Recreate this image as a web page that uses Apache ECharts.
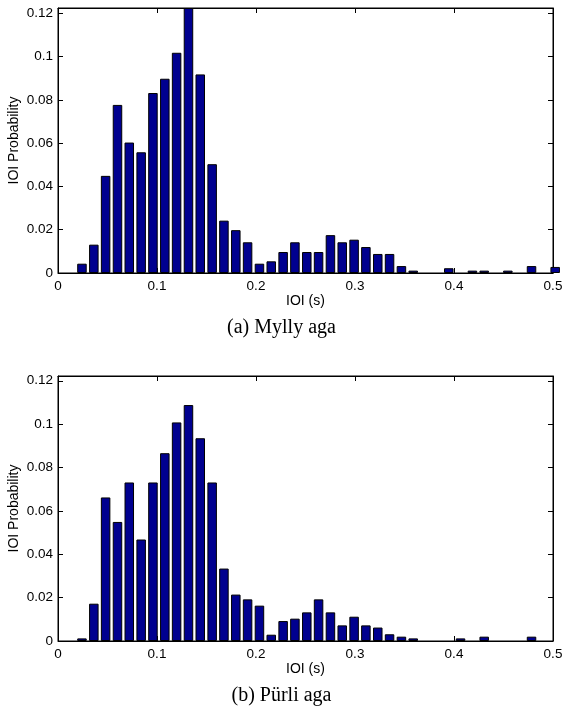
<!DOCTYPE html>
<html>
<head>
<meta charset="utf-8">
<style>
  html, body { margin: 0; padding: 0; background: #fff; }
  #chart { width: 563px; height: 711px; }
</style>
<script src="https://cdn.jsdelivr.net/npm/echarts@6/dist/echarts.min.js"></script>
</head>
<body>
<div id="chart"></div>
<script>
// Histogram bin centres (s), shared by both panels
const binCenters = [
  0.0242, 0.0362, 0.0481, 0.0601, 0.0720, 0.0840, 0.0959, 0.1079, 0.1198, 0.1318,
  0.1437, 0.1557, 0.1676, 0.1796, 0.1915, 0.2035, 0.2154, 0.2274, 0.2393, 0.2513,
  0.2632, 0.2752, 0.2871, 0.2991, 0.3110, 0.3230, 0.3349, 0.3469, 0.3588, 0.3708,
  0.3827, 0.3947, 0.4066, 0.4186, 0.4305, 0.4425, 0.4544, 0.4664, 0.4783, 0.4903,
  0.5022
];

// IOI probabilities, panel (a) Mylly aga
const myllyValues = [
  0.0043, 0.0131, 0.0449, 0.0777, 0.0603, 0.0558, 0.0832, 0.0898, 0.1018, 0.1225,
  0.0918, 0.0503, 0.0242, 0.0198, 0.0142, 0.0043, 0.0054, 0.0097, 0.0142, 0.0097,
  0.0097, 0.0175, 0.0142, 0.0154, 0.0120, 0.0088, 0.0088, 0.0032, 0.0011, 0,
  0, 0.0022, 0, 0.0011, 0.0011, 0, 0.0011, 0, 0.0032, 0,
  0.0028
];

// IOI probabilities, panel (b) Pürli aga
const purliValues = [
  0.0012, 0.0172, 0.0662, 0.0549, 0.0731, 0.0468, 0.0731, 0.0866, 0.1008, 0.1088,
  0.0935, 0.0731, 0.0334, 0.0214, 0.0192, 0.0163, 0.0029, 0.0092, 0.0103, 0.0132,
  0.0192, 0.0132, 0.0072, 0.0112, 0.0072, 0.0062, 0.0031, 0.0020, 0.0012, 0,
  0, 0, 0.0012, 0, 0.0020, 0, 0, 0, 0.0020, 0,
  0
];

const panelCaptions = ['(a) Mylly aga', '(b) P\u00fcrli aga'];
const xAxisTitle = 'IOI (s)';
const yAxisTitle = 'IOI Probability';
const xRange = [0, 0.5];
const xStep = 0.1;
const yRanges = [[0, 0.1225], [0, 0.1222]];
const yStep = 0.02;

const SANS = '"Liberation Sans", Arial, Helvetica, sans-serif';
const SERIF = '"Liberation Serif", "Times New Roman", serif';
const BAR_FILL = '#00008f';

const grids = [
  { left: 58, right: 10, top: 8, height: 265 },
  { left: 58, right: 10, top: 376, height: 265 }
];

function tickFormatter(step) {
  return function (v) {
    const r = v / step;
    if (Math.abs(r - Math.round(r)) > 1e-6) return '';
    return String(+v.toFixed(3));
  };
}

const xAxes = [];
const yAxes = [];
const series = [];

[myllyValues, purliValues].forEach(function (vals, g) {
  // main x axis (bottom) with labels and title
  xAxes.push({
    gridIndex: g, type: 'value', position: 'bottom',
    min: xRange[0], max: xRange[1], interval: xStep,
    axisLine: { show: true, onZero: false, lineStyle: { color: '#000', width: 1 } },
    axisTick: { show: true, inside: true, length: 5, lineStyle: { color: '#000' } },
    axisLabel: { show: true, color: '#000', fontFamily: SANS, fontSize: 13.5, margin: 6,
                 formatter: tickFormatter(xStep) },
    splitLine: { show: false },
    name: xAxisTitle, nameLocation: 'middle', nameGap: 21, nameMoveOverlap: false,
    nameTextStyle: { color: '#000', fontFamily: SANS, fontSize: 14 }
  });
  // mirrored x axis (top) for the box ticks
  xAxes.push({
    gridIndex: g, type: 'value', position: 'top',
    min: xRange[0], max: xRange[1], interval: xStep,
    axisLine: { show: true, onZero: false, lineStyle: { color: '#000', width: 1 } },
    axisTick: { show: true, inside: true, length: 5, lineStyle: { color: '#000' } },
    axisLabel: { show: false },
    splitLine: { show: false }
  });
  // main y axis (left)
  yAxes.push({
    gridIndex: g, type: 'value', position: 'left',
    min: yRanges[g][0], max: yRanges[g][1], interval: yStep,
    axisLine: { show: true, onZero: false, lineStyle: { color: '#000', width: 1 } },
    axisTick: { show: true, inside: true, length: 5, lineStyle: { color: '#000' } },
    axisLabel: { show: true, color: '#000', fontFamily: SANS, fontSize: 13.5, margin: 5,
                 formatter: tickFormatter(yStep) },
    splitLine: { show: false },
    name: yAxisTitle, nameLocation: 'middle', nameGap: 37, nameRotate: 90, nameMoveOverlap: false,
    nameTextStyle: { color: '#000', fontFamily: SANS, fontSize: 14 }
  });
  // mirrored y axis (right)
  yAxes.push({
    gridIndex: g, type: 'value', position: 'right',
    min: yRanges[g][0], max: yRanges[g][1], interval: yStep,
    axisLine: { show: true, onZero: false, lineStyle: { color: '#000', width: 1 } },
    axisTick: { show: true, inside: true, length: 5, lineStyle: { color: '#000' } },
    axisLabel: { show: false },
    splitLine: { show: false }
  });

  const data = binCenters
    .map(function (c, i) { return [c, vals[i]]; })
    .filter(function (d) { return d[1] > 0; });

  series.push({
    type: 'bar',
    xAxisIndex: g * 2,
    yAxisIndex: g * 2,
    data: data,
    barWidth: 9.5,
    clip: true,
    silent: true,
    itemStyle: { color: BAR_FILL, borderColor: '#000', borderWidth: 1 }
  });
});

const captionGraphics = panelCaptions.map(function (txt, g) {
  return {
    type: 'text',
    left: 'center',
    top: g === 0 ? 318 : 686,
    style: { text: txt, fill: '#000', font: '20px ' + SERIF }
  };
});

const chart = echarts.init(document.getElementById('chart'), null, { renderer: 'canvas' });
chart.setOption({
  animation: false,
  backgroundColor: '#fff',
  grid: grids.map(function (gr) {
    return Object.assign({
      show: true, borderColor: '#000', borderWidth: 1, backgroundColor: 'transparent',
      containLabel: false, outerBoundsMode: 'none'
    }, gr);
  }),
  xAxis: xAxes,
  yAxis: yAxes,
  series: series,
  graphic: captionGraphics
});
</script>
</body>
</html>
